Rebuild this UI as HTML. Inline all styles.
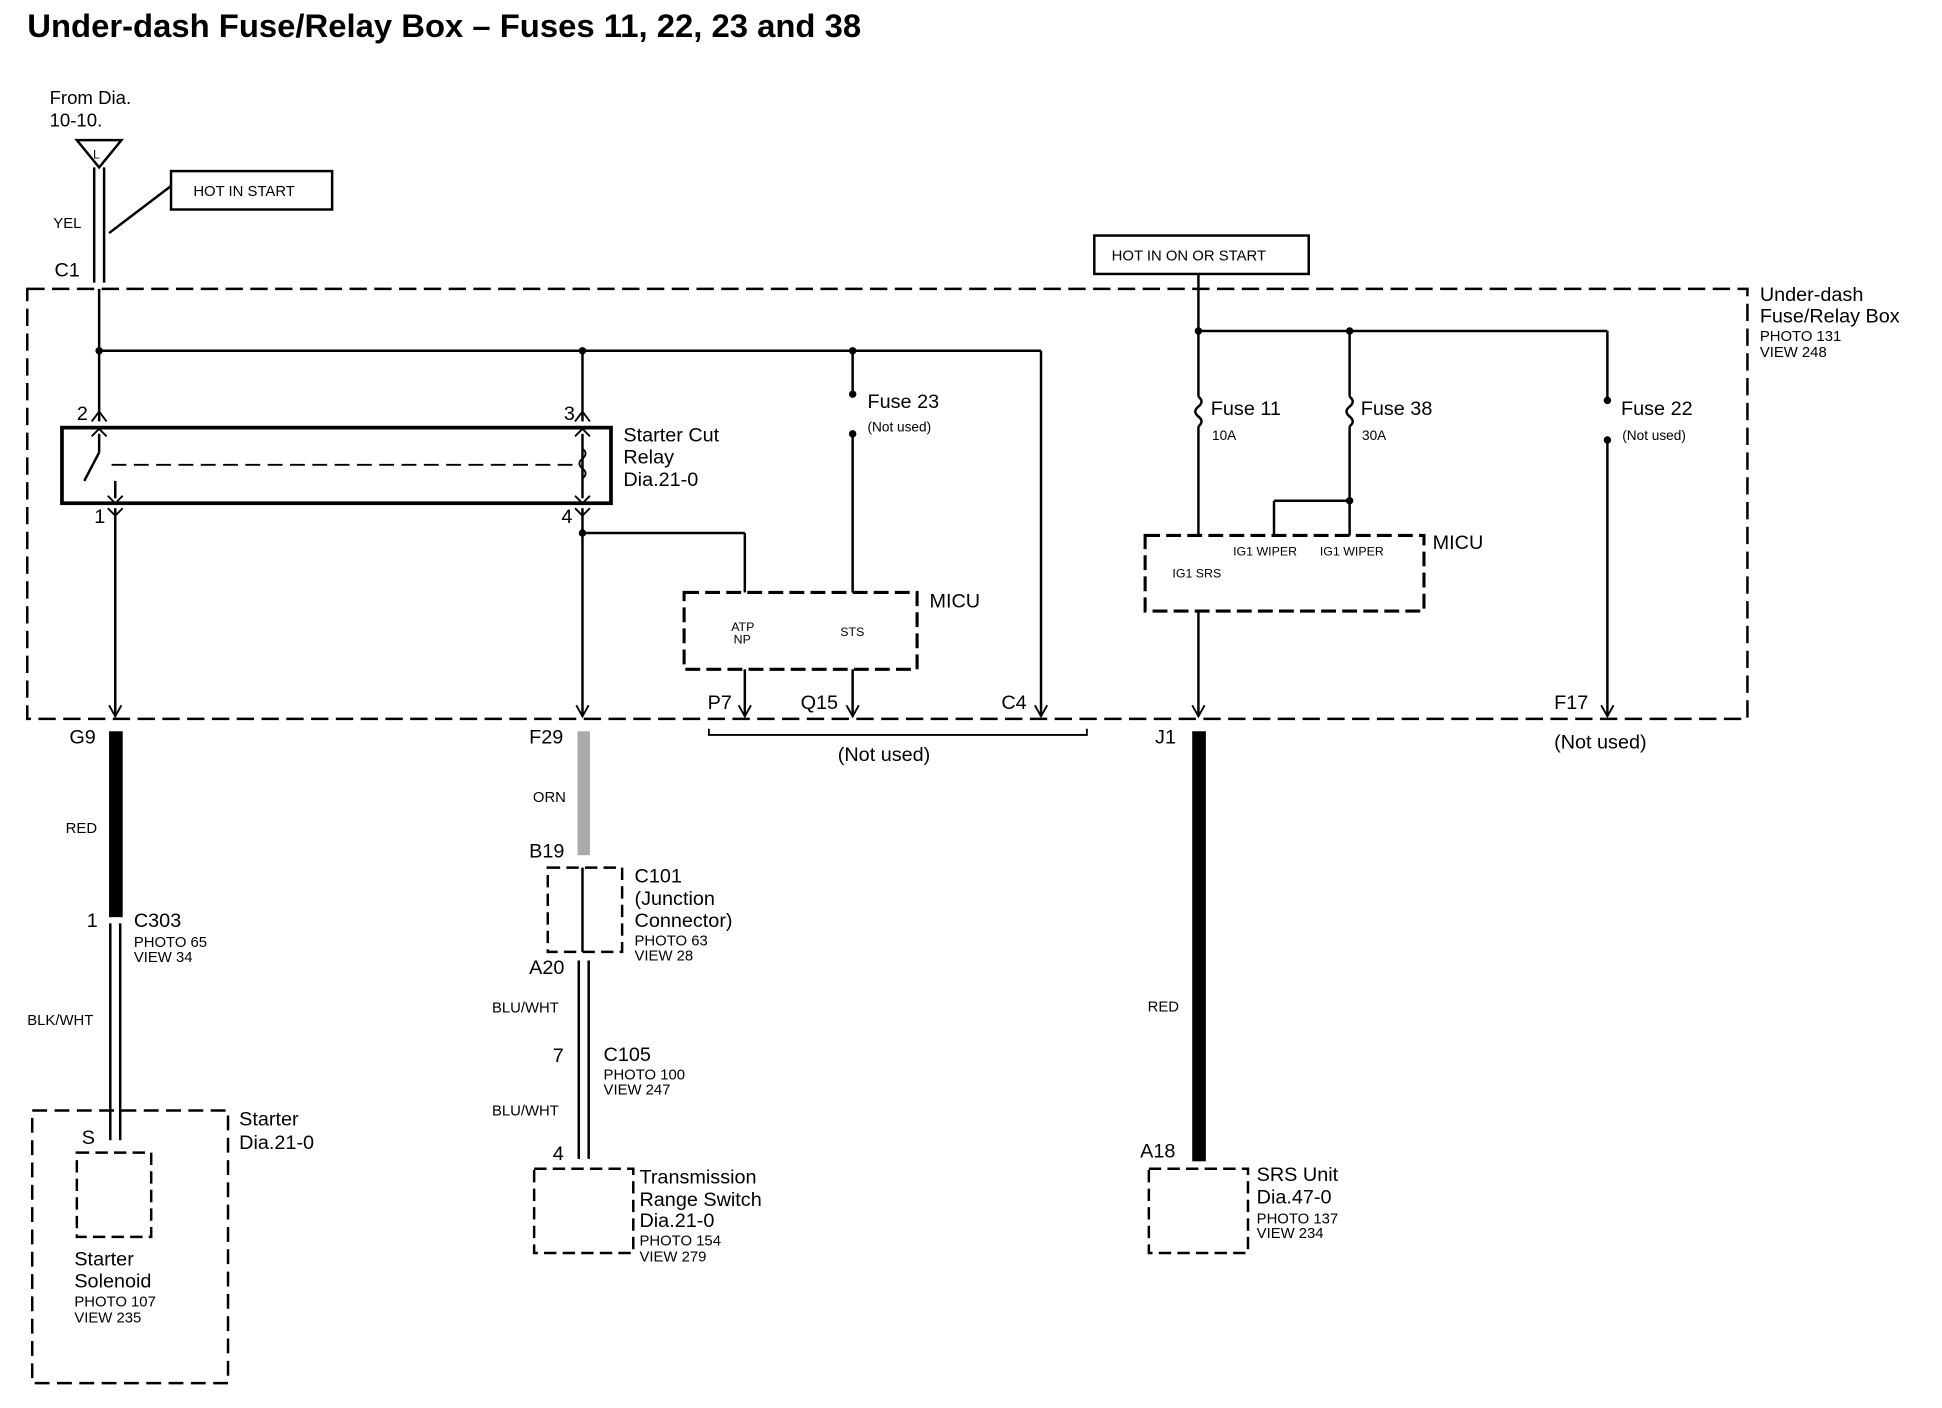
<!DOCTYPE html>
<html><head><style>body{margin:0;background:#fff}svg{display:block}text{font-family:"Liberation Sans",sans-serif;fill:#000}</style></head><body>
<svg width="1942" height="1408" viewBox="0 0 1567 1136" xmlns="http://www.w3.org/2000/svg">
<defs><marker id="a" markerWidth="12" markerHeight="12" refX="10" refY="6" orient="auto" markerUnits="userSpaceOnUse"><path d="M1,1 L10,6 L1,11" fill="none" stroke="#000" stroke-width="1.5"/></marker></defs>
<text x="22" y="30" font-size="26.5" font-weight="bold">Under-dash Fuse/Relay Box – Fuses 11, 22, 23 and 38</text>
<text x="40" y="84" font-size="15">From Dia.</text><text x="40" y="102" font-size="15">10-10.</text>
<path d="M62,113 L98,113 L80,135 Z" fill="none" stroke="#000" stroke-width="2"/><text x="75" y="128" font-size="10">L</text>
<g stroke="#000" stroke-width="2" fill="none">
<line x1="76" y1="135" x2="76" y2="228"/><line x1="84" y1="135" x2="84" y2="228"/>
<line x1="88" y1="188" x2="138" y2="150"/>
<rect x="138" y="138" width="130" height="31"/>
<rect x="883" y="190" width="173" height="31"/>
<rect x="22" y="233" width="1388" height="347" stroke-dasharray="14,6"/>
<line x1="80" y1="233" x2="80" y2="340"/>
<path d="M74,340 L80,332 L86,340 M464,340 L470,332 L476,340 M74,352 L80,346 L86,352 M464,352 L470,346 L476,352 M87,410 L93,416 L99,410 M464,410 L470,416 L476,410 M87,400 L93,406 L99,400 M464,400 L470,406 L476,400" stroke-width="1.5"/>
<line x1="80" y1="283" x2="840" y2="283"/>
<line x1="840" y1="283" x2="840" y2="578" marker-end="url(#a)"/>
<line x1="470" y1="283" x2="470" y2="340"/>
<line x1="688" y1="283" x2="688" y2="318"/><line x1="688" y1="350" x2="688" y2="478"/>
<rect x="50" y="345" width="443" height="61" stroke-width="3"/>
<line x1="80" y1="350" x2="80" y2="365"/><line x1="80" y1="365" x2="68" y2="388"/>
<line x1="90" y1="375" x2="465" y2="375" stroke-dasharray="12,6" stroke-width="1.5"/>
<line x1="470" y1="350" x2="470" y2="402"/>
<path d="M470,362 q5,4 0,8 q-5,4 0,8 q5,4 0,8" stroke-width="1.5"/>
<line x1="93" y1="388" x2="93" y2="402"/>
<line x1="93" y1="410" x2="93" y2="578" marker-end="url(#a)"/>
<line x1="470" y1="410" x2="470" y2="578" marker-end="url(#a)"/>
<line x1="470" y1="430" x2="601" y2="430"/><line x1="601" y1="430" x2="601" y2="478"/>
<rect x="552" y="478" width="188" height="62" stroke-dasharray="12,5" stroke-width="2.5"/>
<line x1="601" y1="540" x2="601" y2="578" marker-end="url(#a)"/>
<line x1="688" y1="540" x2="688" y2="578" marker-end="url(#a)"/>
<path d="M572,588 L572,593 L877,593 L877,588" stroke-width="1.5"/>
<line x1="967" y1="221" x2="967" y2="320"/>
<line x1="967" y1="267" x2="1297" y2="267"/>
<line x1="1089" y1="267" x2="1089" y2="320"/>
<line x1="1297" y1="267" x2="1297" y2="323"/><line x1="1297" y1="355" x2="1297" y2="578" marker-end="url(#a)"/>
<path d="M967,320 q5,4 0,8 q-5,4 0,8 q5,4 0,8 M1089,320 q5,4 0,8 q-5,4 0,8 q5,4 0,8"/>
<line x1="967" y1="344" x2="967" y2="432"/><line x1="1089" y1="344" x2="1089" y2="432"/>
<line x1="1028" y1="404" x2="1089" y2="404"/><line x1="1028" y1="404" x2="1028" y2="432"/>
<rect x="924" y="432" width="225" height="61" stroke-dasharray="12,5" stroke-width="2.5"/>
<line x1="967" y1="493" x2="967" y2="578" marker-end="url(#a)"/>
<line x1="89" y1="745" x2="89" y2="920"/><line x1="97" y1="745" x2="97" y2="920"/>
<line x1="467" y1="775" x2="467" y2="935"/><line x1="475" y1="775" x2="475" y2="935"/>
<rect x="442" y="700" width="60" height="68" stroke-dasharray="10,5"/>
<line x1="470" y1="700" x2="470" y2="768"/>
<rect x="26" y="896" width="158" height="220" stroke-dasharray="12,6"/>
<rect x="62" y="930" width="60" height="68" stroke-dasharray="10,5"/>
<rect x="431" y="943" width="80" height="68" stroke-dasharray="10,5"/>
<rect x="927" y="943" width="80" height="68" stroke-dasharray="10,5"/>
</g>
<g fill="#000"><circle cx="80" cy="283" r="3"/><circle cx="470" cy="283" r="3"/><circle cx="688" cy="283" r="3"/><circle cx="688" cy="318" r="3"/><circle cx="688" cy="350" r="3"/><circle cx="470" cy="430" r="3"/><circle cx="967" cy="267" r="3"/><circle cx="1089" cy="267" r="3"/><circle cx="1297" cy="323" r="3"/><circle cx="1297" cy="355" r="3"/><circle cx="1089" cy="404" r="3"/>
<rect x="88" y="590" width="11" height="150"/><rect x="962" y="590" width="11" height="347"/>
<rect x="466" y="590" width="10" height="100" fill="#aaa"/></g>
<g font-size="12"><text x="156" y="158">HOT IN START</text><text x="897" y="210">HOT IN ON OR START</text>
<text x="43" y="184">YEL</text><text x="53" y="672">RED</text><text x="430" y="647">ORN</text><text x="22" y="827">BLK/WHT</text><text x="397" y="817">BLU/WHT</text><text x="397" y="900">BLU/WHT</text><text x="926" y="816">RED</text>
<text x="700" y="348" font-size="11">(Not used)</text><text x="1309" y="355" font-size="11">(Not used)</text><text x="978" y="355" font-size="11">10A</text><text x="1099" y="355" font-size="11">30A</text>
<text x="590" y="509" font-size="10">ATP</text><text x="592" y="519" font-size="10">NP</text><text x="678" y="513" font-size="10">STS</text>
<text x="995" y="448" font-size="10">IG1 WIPER</text><text x="1065" y="448" font-size="10">IG1 WIPER</text><text x="946" y="466" font-size="10">IG1 SRS</text>
<text x="1420" y="275">PHOTO 131</text><text x="1420" y="288">VIEW 248</text>
<text x="108" y="764">PHOTO 65</text><text x="108" y="776">VIEW 34</text>
<text x="512" y="763">PHOTO 63</text><text x="512" y="775">VIEW 28</text>
<text x="487" y="871">PHOTO 100</text><text x="487" y="883">VIEW 247</text>
<text x="60" y="1054">PHOTO 107</text><text x="60" y="1067">VIEW 235</text>
<text x="516" y="1005">PHOTO 154</text><text x="516" y="1018">VIEW 279</text>
<text x="1014" y="987">PHOTO 137</text><text x="1014" y="999">VIEW 234</text></g>
<g font-size="16"><text x="44" y="223">C1</text><text x="62" y="339">2</text><text x="455" y="339">3</text><text x="76" y="422">1</text><text x="453" y="422">4</text>
<text x="503" y="356">Starter Cut</text><text x="503" y="374">Relay</text><text x="503" y="392">Dia.21-0</text>
<text x="700" y="329">Fuse 23</text><text x="977" y="335">Fuse 11</text><text x="1098" y="335">Fuse 38</text><text x="1308" y="335">Fuse 22</text>
<text x="750" y="490">MICU</text><text x="1156" y="443">MICU</text>
<text x="1420" y="243">Under-dash</text><text x="1420" y="260">Fuse/Relay Box</text>
<text x="571" y="572">P7</text><text x="646" y="572">Q15</text><text x="808" y="572">C4</text><text x="1254" y="572">F17</text>
<text x="56" y="600">G9</text><text x="427" y="600">F29</text><text x="932" y="600">J1</text>
<text x="676" y="614">(Not used)</text><text x="1254" y="604">(Not used)</text>
<text x="427" y="692">B19</text><text x="512" y="712">C101</text><text x="512" y="730">(Junction</text><text x="512" y="748">Connector)</text>
<text x="427" y="786">A20</text><text x="70" y="748">1</text><text x="108" y="748">C303</text>
<text x="446" y="857">7</text><text x="487" y="856">C105</text><text x="446" y="936">4</text>
<text x="516" y="955">Transmission</text><text x="516" y="973">Range Switch</text><text x="516" y="990">Dia.21-0</text>
<text x="920" y="934">A18</text><text x="1014" y="953">SRS Unit</text><text x="1014" y="971">Dia.47-0</text>
<text x="66" y="923">S</text><text x="193" y="908">Starter</text><text x="193" y="927">Dia.21-0</text>
<text x="60" y="1021">Starter</text><text x="60" y="1039">Solenoid</text></g>
</svg></body></html>
